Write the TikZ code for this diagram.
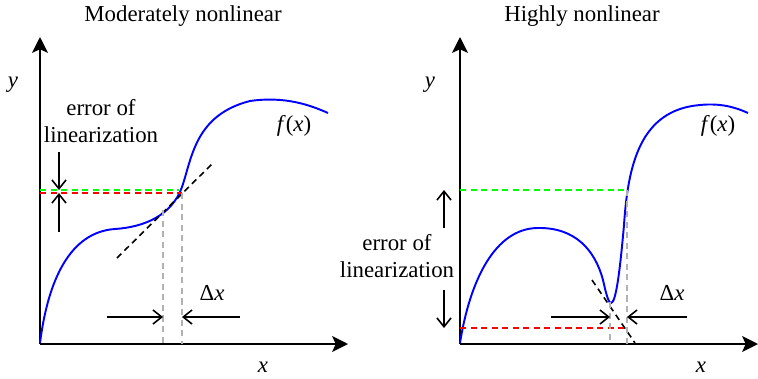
\documentclass[tikz,border=0pt]{standalone}
\usepackage{fontspec}
\setmainfont{LiberationSerif}[Extension=.ttf,UprightFont=*-Regular,ItalicFont=*-Italic,BoldFont=*-Bold]
\usetikzlibrary{arrows.meta}

\begin{document}
\begin{tikzpicture}[x=0.02cm,y=-0.02cm,
  axis/.style={line width=1.1pt,-{Stealth[length=9pt,width=9pt,inset=2pt]}},
  fcurve/.style={blue,line width=1.1pt},
  tangent/.style={black,dash pattern=on 3.5pt off 2.5pt,line width=0.9pt},
  guide/.style={gray!60,dash pattern=on 3.5pt off 2.5pt,line width=0.9pt},
  level/.style={dash pattern=on 3.5pt off 2.5pt,line width=1pt},
  dimarrow/.style={line width=0.9pt,-{Straight Barb[length=5pt,width=8pt]}},
  lbl/.style={font=\rmfamily\fontsize{13}{15.5}\selectfont,inner sep=0pt}]
  \useasboundingbox (0,0) rectangle (758,379);

  \node[lbl] (title1) at (183,16) {Moderately nonlinear};
  \coordinate (O1) at (40,344);
  \coordinate (Y1) at (40,37);
  \coordinate (X1) at (348,344);
  \draw[axis] (O1) -- (Y1);
  \draw[axis] (O1) -- (X1);
  \node[lbl] (ylab1) at (13,85) {\textit{y}};
  \node[lbl] (xlab1) at (263,367) {\textit{x}};
  \draw[fcurve] (40,343) .. controls (48,280) and (70,232) .. (115,229)
    .. controls (145,227) and (172,215) .. (182,187)
    .. controls (192,158) and (195,115) .. (250,101)
    .. controls (285,96) and (310,105) .. (328,113);
  \node[lbl] (flab1) at (294,126) {\textit{f}(\textit{x})};
  \coordinate (T1a) at (117,258);
  \coordinate (T1b) at (212,164);
  \draw[tangent] (T1a) -- (T1b);
  \coordinate (G1) at (40,190);
  \coordinate (G1e) at (179,190);
  \coordinate (R1) at (40,193);
  \coordinate (R1e) at (182,193);
  \draw[level,green] (G1) -- (G1e);
  \draw[level,red] (R1) -- (R1e);
  \coordinate (P1) at (163,210);
  \coordinate (P1b) at (163,344);
  \coordinate (Q1b) at (182,344);
  \draw[guide] (P1) -- (P1b);
  \draw[guide] (R1e) -- (Q1b);
  \coordinate (E1t) at (59,152);
  \coordinate (E1u) at (59,190);
  \coordinate (E1d) at (59,193);
  \coordinate (E1b) at (59,232);
  \draw[dimarrow] (E1t) -- (E1u);
  \draw[dimarrow] (E1b) -- (E1d);
  \node[lbl,align=center] (err1) at (101,121) {error of\\linearization};
  \coordinate (D1l) at (107,317);
  \coordinate (D1m) at (163,317);
  \coordinate (D1n) at (182,317);
  \coordinate (D1r) at (240,317);
  \draw[dimarrow] (D1l) -- (D1m);
  \draw[dimarrow] (D1r) -- (D1n);
  \node[lbl] (dx1) at (212,293) {Δ\textit{x}};

  \node[lbl] (title2) at (582,16) {Highly nonlinear};
  \coordinate (O2) at (460,344);
  \coordinate (Y2) at (460,37);
  \coordinate (X2) at (758,344);
  \draw[axis] (O2) -- (Y2);
  \draw[axis] (O2) -- (X2);
  \node[lbl] (ylab2) at (430,85) {\textit{y}};
  \node[lbl] (xlab2) at (701,367) {\textit{x}};
  \draw[fcurve] (460,343) .. controls (470,280) and (495,229) .. (537,228)
    .. controls (575,227) and (595,250) .. (603,280)
    .. controls (607,298) and (609,303) .. (611,303)
    .. controls (616,303) and (620,270) .. (624,225)
    .. controls (628,165) and (640,110) .. (700,105)
    .. controls (720,103) and (735,107) .. (748,113);
  \node[lbl] (flab2) at (718,126) {\textit{f}(\textit{x})};
  \coordinate (T2a) at (592,280);
  \coordinate (T2b) at (635,343);
  \draw[tangent] (T2a) -- (T2b);
  \coordinate (G2) at (460,190);
  \coordinate (G2e) at (627,190);
  \coordinate (R2) at (460,328);
  \coordinate (R2e) at (627,328);
  \draw[level,green] (G2) -- (G2e);
  \draw[level,red] (R2) -- (R2e);
  \coordinate (P2) at (610,302);
  \coordinate (P2b) at (610,344);
  \coordinate (Q2b) at (627,344);
  \draw[guide] (P2) -- (P2b);
  \draw[guide] (G2e) -- (Q2b);
  \coordinate (E2t) at (444,228);
  \coordinate (E2u) at (444,190);
  \coordinate (E2d) at (444,328);
  \coordinate (E2b) at (444,290);
  \draw[dimarrow] (E2t) -- (E2u);
  \draw[dimarrow] (E2b) -- (E2d);
  \node[lbl,align=center] (err2) at (397,256) {error of\\linearization};
  \coordinate (D2l) at (551,317);
  \coordinate (D2m) at (610,317);
  \coordinate (D2n) at (627,317);
  \coordinate (D2r) at (687,317);
  \draw[dimarrow] (D2l) -- (D2m);
  \draw[dimarrow] (D2r) -- (D2n);
  \node[lbl] (dx2) at (672,293) {Δ\textit{x}};
\end{tikzpicture}
\end{document}
